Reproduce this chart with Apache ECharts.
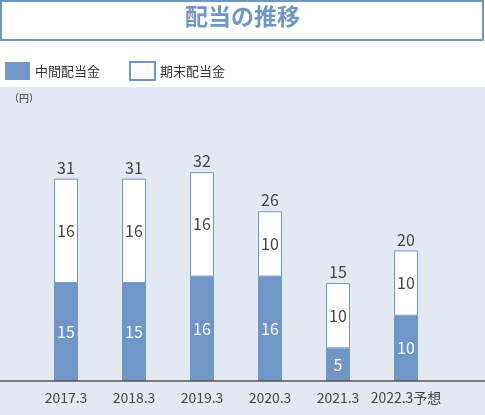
<!DOCTYPE html>
<html><head><meta charset="utf-8">
<script src="https://cdn.jsdelivr.net/npm/echarts@6/dist/echarts.min.js"></script>
<style>html,body{margin:0;padding:0;background:#fff}#main{width:485px;height:415px}</style>
</head><body><div id="main"></div>
<script>
var years = ['2017.3', '2018.3', '2019.3', '2020.3', '2021.3', '2022.3予想'];
var interim = [15, 15, 16, 16, 5, 10];
var yearEnd = [16, 16, 16, 10, 10, 10];
var totals = [31, 31, 32, 26, 15, 20];

var myChart = echarts.init(document.getElementById('main'));
var font = '"Noto Sans CJK JP", "Noto Sans", sans-serif';
var blue = '#7096c8';

var option = {
    animation: false,
    textStyle: { fontFamily: font },
    graphic: [
        { type: 'rect', shape: { x: 0, y: 87, width: 485, height: 328 }, style: { fill: '#e3e9f3' }, z: -10 },
        { type: 'rect', shape: { x: 1, y: 1, width: 482, height: 39 }, style: { fill: '#fff', stroke: blue, lineWidth: 2 } },
        { type: 'text', left: 'center', top: 5, style: { text: '配当の推移', fill: blue, font: 'bold 23px ' + font } },
        { type: 'text', left: 9, top: 93, style: { text: '（円）', fill: '#333', font: '10px ' + font } },
        { type: 'line', shape: { x1: 0, y1: 381, x2: 485, y2: 381 }, style: { stroke: '#555', lineWidth: 1.5 }, z: 10 }
    ],
    legend: {
        left: 0, top: 56, itemWidth: 25, itemHeight: 18, itemGap: 29,
        icon: 'rect',
        textStyle: { fontSize: 13, color: '#333', fontFamily: font },
        data: ['中間配当金', '期末配当金']
    },
    grid: { left: 32, right: 45, top: 146, bottom: 34 },
    xAxis: {
        type: 'category', data: years,
        axisLine: { show: false }, axisTick: { show: false },
        axisLabel: { color: '#444', fontSize: 14, margin: 10, interval: 0 }
    },
    yAxis: { type: 'value', min: 0, max: 36, show: false },
    series: [
        {
            name: '中間配当金', type: 'bar', stack: 'd', barWidth: 24,
            itemStyle: { color: blue },
            label: { show: true, position: 'inside', color: '#fff', fontSize: 16 },
            data: interim
        },
        {
            name: '期末配当金', type: 'bar', stack: 'd', barWidth: 24,
            itemStyle: { color: '#fff', borderColor: blue, borderWidth: 1 },
            label: { show: true, position: 'inside', color: '#444', fontSize: 16 },
            data: yearEnd
        },
        {
            name: '合計', type: 'bar', stack: 'd', barWidth: 24,
            itemStyle: { color: 'transparent' }, silent: true,
            label: { show: true, position: 'insideBottom', distance: 3, color: '#444', fontSize: 16,
                formatter: function (p) { return totals[p.dataIndex]; } },
            data: totals.map(function () { return 0.001; })
        }
    ]
};
myChart.setOption(option);
</script></body></html>
